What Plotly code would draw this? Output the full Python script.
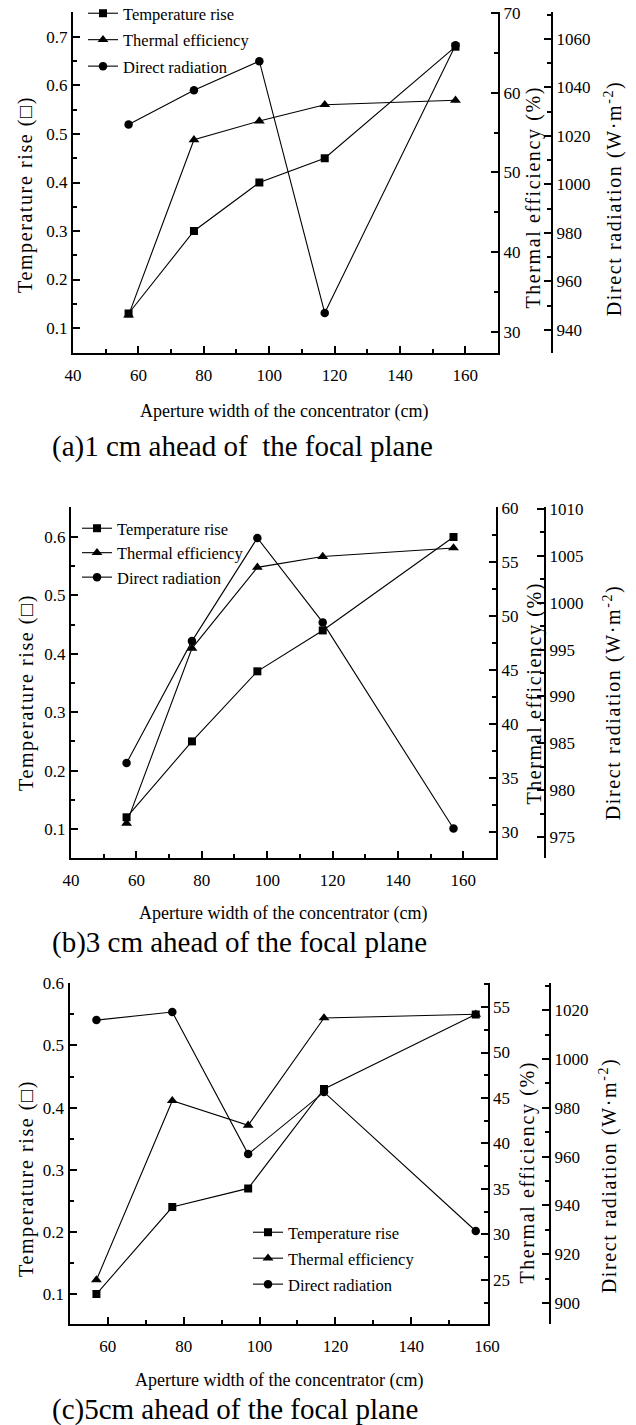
import plotly.graph_objects as go

W, H = 636, 1425

# ---------------- data ----------------
aperture = [57, 77, 97, 117, 157]

temp_rise_a = [0.13, 0.30, 0.40, 0.45, 0.68]
thermal_eff_a = [32.1, 54.1, 56.45, 58.5, 59.05]
direct_rad_a = [1024.7, 1038.8, 1050.8, 947.0, 1057.4]

temp_rise_b = [0.12, 0.25, 0.37, 0.44, 0.60]
thermal_eff_b = [30.8, 47.0, 54.5, 55.5, 56.3]
direct_rad_b = [982.9, 995.9, 1006.9, 997.9, 975.9]

temp_rise_c = [0.10, 0.24, 0.27, 0.43, 0.55]
thermal_eff_c = [25.0, 44.7, 42.0, 53.8, 54.2]
direct_rad_c = [1015.9, 1019.2, 961.0, 986.4, 929.5]

series_names = ["Temperature rise", "Thermal efficiency", "Direct radiation"]
captions = ["(a)1 cm ahead of  the focal plane",
            "(b)3 cm ahead of the focal plane",
            "(c)5cm ahead of the focal plane"]
x_title = "Aperture width of the concentrator (cm)"
y1_title = "Temperature rise (□)"
y2_title = "Thermal efficiency (%)"
y3_title = "Direct radiation (W·m<sup>-2</sup>)"


def px(x):
    return x / W


def py(y):
    return 1 - y / H


FONT = "Liberation Serif, Times New Roman, serif"

panels = [
    dict(temp=temp_rise_a, eff=thermal_eff_a, rad=direct_rad_a,
         xdom=(73, 498), ydom=(12, 353), xr=[40, 170], yr=[0.0485, 0.7515],
         y2r=[27.34, 70.13], y2d=10, y3r=[930.5, 1071.1], y3d=20, y3pos=552,
         leg=(83, -4), gap=2, cap_y=446, xt=(284, 412), yt_c=195,
         y2t=(534, 198), y3t=(613, 199)),
    dict(temp=temp_rise_b, eff=thermal_eff_b, rad=direct_rad_b,
         xdom=(71, 496), ydom=(507, 858), xr=[40, 170], yr=[0.0503, 0.6514],
         y2r=[27.59, 60.09], y2d=5, y3r=[972.76, 1010.21], y3d=5, y3pos=545,
         leg=(77, 511), gap=0, cap_y=942, xt=(283, 913), yt_c=693,
         y2t=(534, 694), y3t=(612, 703)),
    dict(temp=temp_rise_c, eff=thermal_eff_c, rad=direct_rad_c,
         xdom=(69.5, 487.5), ydom=(983, 1324), xr=[49.9, 160.1], yr=[0.0518, 0.6005],
         y2r=[20.16, 57.64], y2d=5, y3r=[891.4, 1031.1], y3d=20, y3pos=550,
         leg=(248, 1215), gap=1.5, cap_y=1409, xt=(279, 1380), yt_c=1179,
         y2t=(527, 1173), y3t=(608, 1176)),
]

fig = go.Figure()
layout = dict(
    width=W, height=H,
    margin=dict(l=0, r=0, t=0, b=0, pad=0, autoexpand=False),
    paper_bgcolor="white", plot_bgcolor="rgba(0,0,0,0)",
    font=dict(family=FONT, size=17, color="black"),
    showlegend=True,
)
annotations = []

tick_font = dict(family=FONT, size=17, color="black")
symbols = ["square", "triangle-up", "circle"]
msizes = [8, 9.5, 8.5]

for i, p in enumerate(panels):
    xa = "x" if i == 0 else f"x{i + 1}"
    ya = [("y" if 3 * i + k == 0 else f"y{3 * i + k + 1}") for k in range(3)]
    legname = "legend" if i == 0 else f"legend{i + 1}"
    vals = [p["temp"], p["eff"], p["rad"]]
    for k in range(3):
        fig.add_trace(go.Scatter(
            x=aperture, y=vals[k], mode="lines+markers", name=series_names[k],
            xaxis=xa, yaxis=ya[k], legend=legname, legendgroup=f"g{i}{k}",
            line=dict(color="black", width=1.1),
            marker=dict(symbol=symbols[k], size=msizes[k], color="black"),
        ))
    xdom = [px(p["xdom"][0]), px(p["xdom"][1])]
    ydom = [py(p["ydom"][1]), py(p["ydom"][0])]
    common = dict(showgrid=False, zeroline=False, showline=True, linewidth=2,
                  linecolor="black", ticks="inside", ticklen=7, tickwidth=1.6,
                  tickcolor="black", tickfont=tick_font, automargin=False)
    minor_common = dict(tick0=0, ticks="inside", ticklen=4, tickwidth=1.6,
                        tickcolor="black", showgrid=False)
    layout["xaxis" if i == 0 else f"xaxis{i + 1}"] = dict(
        domain=xdom, anchor=ya[0], range=p["xr"], dtick=20, tick0=0,
        ticklabelstandoff=6, minor=dict(dtick=10, **minor_common), **common)
    layout["yaxis" if i == 0 else f"yaxis{3 * i + 1}"] = dict(
        domain=ydom, anchor=xa, range=p["yr"], dtick=0.1, tick0=0,
        tickformat=".1f", minor=dict(dtick=0.05, **minor_common), **common)
    layout[f"yaxis{3 * i + 2}"] = dict(
        domain=ydom, anchor=xa, overlaying=ya[0], side="right",
        range=p["y2r"], dtick=p["y2d"], tick0=0,
        minor=dict(dtick=p["y2d"] / 2, **minor_common), **common)
    layout[f"yaxis{3 * i + 3}"] = dict(
        domain=ydom, anchor="free", overlaying=ya[0], side="right",
        position=px(p["y3pos"]), range=p["y3r"], dtick=p["y3d"], tick0=0,
        minor=dict(dtick=p["y3d"] / 2, **minor_common), **common)
    layout[legname] = dict(
        x=px(p["leg"][0]), y=py(p["leg"][1]), xanchor="left", yanchor="top",
        bgcolor="rgba(0,0,0,0)", borderwidth=0,
        font=dict(family=FONT, size=16.5, color="black"),
        traceorder="grouped", tracegroupgap=p["gap"], itemwidth=30,
    )
    # captions and titles
    annotations.append(dict(
        text=captions[i], x=px(50), y=py(p["cap_y"]), xref="paper", yref="paper",
        xanchor="left", yanchor="middle", showarrow=False,
        font=dict(family=FONT, size=29, color="black")))
    annotations.append(dict(
        text=x_title, x=px(p["xt"][0]), y=py(p["xt"][1]), xref="paper",
        yref="paper", xanchor="center", yanchor="middle", showarrow=False,
        font=dict(family=FONT, size=18, color="black")))
    annotations.append(dict(
        text=y1_title, x=px(26), y=py(p["yt_c"]), xref="paper", yref="paper",
        xanchor="center", yanchor="middle", showarrow=False, textangle=-90,
        font=dict(family=FONT, size=20, color="black")))
    annotations.append(dict(
        text=y2_title, x=px(p["y2t"][0]), y=py(p["y2t"][1]), xref="paper",
        yref="paper", xanchor="center", yanchor="middle", showarrow=False,
        textangle=-90, font=dict(family=FONT, size=20, color="black")))
    annotations.append(dict(
        text=y3_title, x=px(p["y3t"][0]), y=py(p["y3t"][1]), xref="paper",
        yref="paper", xanchor="center", yanchor="middle", showarrow=False,
        textangle=-90, font=dict(family=FONT, size=20, color="black")))

layout["annotations"] = annotations
fig.update_layout(**layout)

post = """
document.body.style.margin = '0';
document.body.style.padding = '0';
var gd = document.getElementById('{plot_id}');
function spaceTitles(){
  document.querySelectorAll('.annotation-text').forEach(function(t){
    var s = t.getAttribute('data-unformatted') || t.textContent || '';
    if (s.indexOf('Temperature rise') === 0 || s.indexOf('Thermal efficiency') === 0 ||
        s.indexOf('Direct radiation') === 0) {
      t.style.letterSpacing = '1.6px';
    }
  });
}
spaceTitles();
if (gd && gd.on) { gd.on('plotly_afterplot', spaceTitles); }
"""

fig.write_html("out.html", post_script=post,
               config={"displayModeBar": False, "responsive": False})
